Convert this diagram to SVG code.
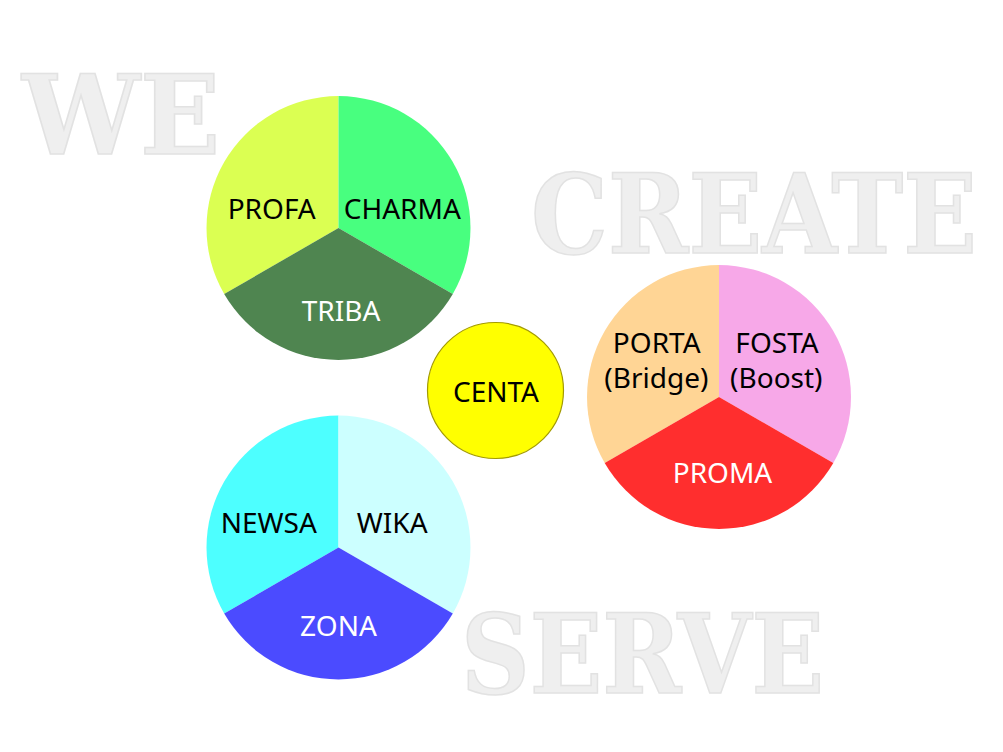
<svg xmlns="http://www.w3.org/2000/svg" width="1003" height="752" viewBox="0 0 1003 752">
<style>
.bg{font-family:"DejaVu Serif Condensed","DejaVu Serif",serif;font-weight:bold;font-size:110px;fill:#efefef;stroke:#e2e2e2;stroke-width:1.5}
.lbl{font-family:"Noto Sans","Open Sans",sans-serif;font-size:28px;text-anchor:middle;fill:#000}
.w{fill:#fff}
</style>
<defs>
<path id="secR" d="M0,0 L0,-132 A132,132 0 0 1 114.3,66 Z"/>
<path id="secB" d="M0,0 L114.3,66 A132,132 0 0 1 -114.3,66 Z"/>
<path id="secL" d="M0,0 L-114.3,66 A132,132 0 0 1 0,-132 Z"/>
</defs>
<rect width="1003" height="752" fill="#fff"/>
<g id="background-words">
<text class="bg" x="22" y="154" font-size="115" textLength="198" lengthAdjust="spacingAndGlyphs">WE</text>
<text class="bg" x="531" y="253" textLength="446" lengthAdjust="spacingAndGlyphs">CREATE</text>
<text class="bg" x="461" y="693" textLength="363" lengthAdjust="spacingAndGlyphs">SERVE</text>
</g>
<g id="connectors"/>
<g id="pie-top" transform="translate(338.5,228)">
<use href="#secL" fill="#dbff52"/>
<use href="#secR" fill="#48ff7f"/>
<use href="#secB" fill="#4f8550"/>
<text class="lbl" x="-66.8" y="-8.7">PROFA</text>
<text class="lbl" x="63.8" y="-8.7">CHARMA</text>
<text class="lbl w" x="2.5" y="93">TRIBA</text>
</g>
<g id="pie-bottom" transform="translate(338.5,547.5)">
<use href="#secL" fill="#4dffff"/>
<use href="#secR" fill="#ccffff"/>
<use href="#secB" fill="#4b4bff"/>
<text class="lbl" x="-69.7" y="-14.8">NEWSA</text>
<text class="lbl" x="53.7" y="-14.8">WIKA</text>
<text class="lbl w" x="0" y="88.2">ZONA</text>
</g>
<g id="pie-right" transform="translate(719,397)">
<use href="#secL" fill="#ffd595"/>
<use href="#secR" fill="#f7a8e8"/>
<use href="#secB" fill="#ff2e2e"/>
<text class="lbl" x="-62.3" y="-44.3">PORTA</text>
<text class="lbl" x="-62.7" y="-8.7">(Bridge)</text>
<text class="lbl" x="58" y="-44.3">FOSTA</text>
<text class="lbl" x="57.3" y="-8.7">(Boost)</text>
<text class="lbl w" x="3.5" y="85.7">PROMA</text>
</g>
<g id="centa">
<circle cx="495.5" cy="390.5" r="68" fill="#ffff00" stroke="#a39b00" stroke-width="1.2"/>
<text class="lbl" x="496" y="402.3" font-size="28.5">CENTA</text>
</g>
</svg>
